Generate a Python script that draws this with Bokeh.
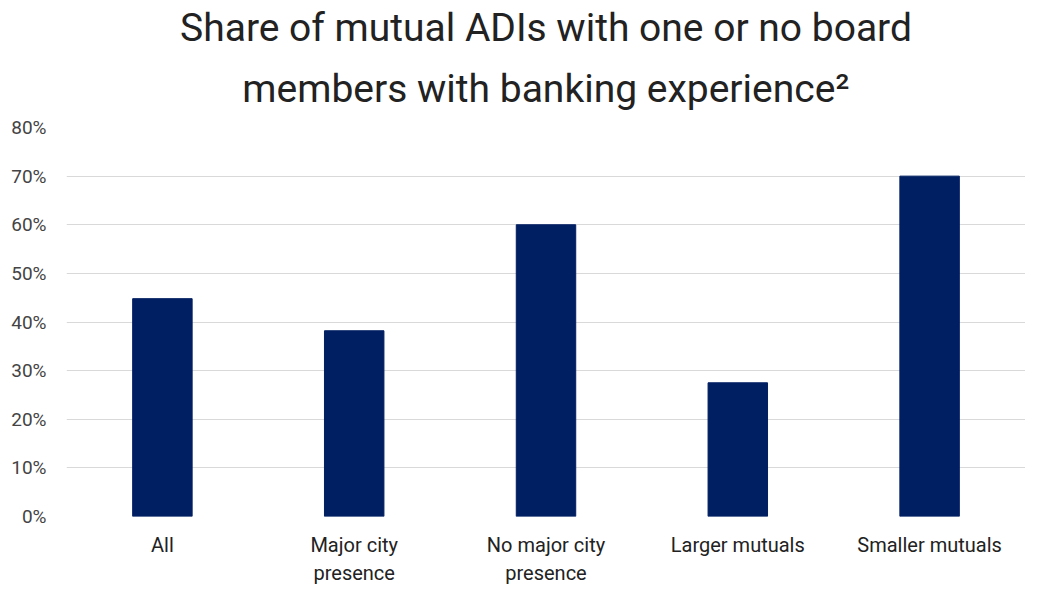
from bokeh.plotting import figure
from bokeh.models import ColumnDataSource, NumeralTickFormatter, Title, FixedTicker
from bokeh.embed import file_html
from bokeh.resources import INLINE

categories = ["All", "Major city\npresence", "No major city\npresence", "Larger mutuals", "Smaller mutuals"]
shares = [0.448, 0.382, 0.60, 0.275, 0.70]
y_ticks = [0, 0.1, 0.2, 0.3, 0.4, 0.5, 0.6, 0.7, 0.8]

src = ColumnDataSource(dict(cat=categories, val=shares))

p = figure(x_range=categories, y_range=(0, 0.8), width=1025, height=588,
           output_backend="svg", toolbar_location=None,
           min_border_left=66, min_border_right=0, min_border_top=10, min_border_bottom=60)

p.vbar(x="cat", top="val", width=0.31, source=src, color="#001F62")

t2 = Title(text="members with banking experience²", align="center",
           text_font="Roboto", text_font_size="39px", text_font_style="normal",
           text_color="#222222", offset=0, standoff=27, vertical_align="top")
t1 = Title(text="Share of mutual ADIs with one or no board", align="center",
           text_font="Roboto", text_font_size="39px", text_font_style="normal",
           text_color="#222222", standoff=4)
p.add_layout(t2, "above")
p.add_layout(t1, "above")

p.yaxis.ticker = FixedTicker(ticks=y_ticks)
p.yaxis.formatter = NumeralTickFormatter(format="0%")
p.yaxis.axis_line_color = None
p.yaxis.major_tick_line_color = None
p.yaxis.minor_tick_line_color = None
p.yaxis.major_label_text_font = "Roboto"
p.yaxis.major_label_text_font_size = "19px"
p.yaxis.major_label_text_color = "#444444"
p.yaxis.major_label_standoff = 14

p.xaxis.axis_line_color = None
p.xaxis.major_tick_line_color = None
p.xaxis.major_label_text_font = "Roboto"
p.xaxis.major_label_text_font_size = "20px"
p.xaxis.major_label_text_color = "#222222"
p.xaxis.major_label_standoff = 10

p.xgrid.grid_line_color = None
p.ygrid.grid_line_color = "#d9d9d9"
p.outline_line_color = None

open("out.html", "w").write(file_html(p, INLINE))
